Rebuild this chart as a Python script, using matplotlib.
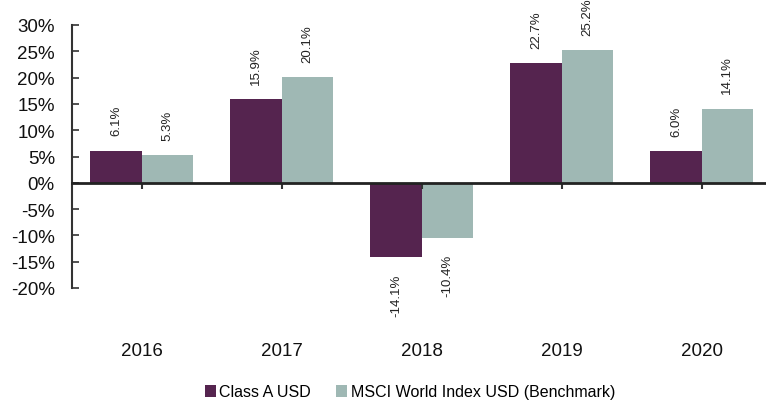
import matplotlib
matplotlib.use("Agg")
import matplotlib.pyplot as plt
from matplotlib.patches import Patch
from matplotlib.ticker import FuncFormatter
import numpy as np

years = ["2016", "2017", "2018", "2019", "2020"]
class_a = [6.1, 15.9, -14.1, 22.7, 6.0]
msci = [5.3, 20.1, -10.4, 25.2, 14.1]
series_names = ["Class A USD", "MSCI World Index USD (Benchmark)"]
yticks = [-20, -15, -10, -5, 0, 5, 10, 15, 20, 25, 30]

purple = "#55244f"
teal = "#9fb8b4"

plt.rcParams['font.family'] = ['Liberation Sans', 'DejaVu Sans']

fig = plt.figure(figsize=(7.66, 4.02), dpi=100)
ax = fig.add_axes([71.5 / 766, 1 - 289 / 402, 700 / 766, 263 / 402])

x = np.arange(len(years))
w = 0.365
b1 = ax.bar(x - w / 2, class_a, w, color=purple, linewidth=0)
b2 = ax.bar(x + w / 2, msci, w, color=teal, linewidth=0)

for bars, vals in ((b1, class_a), (b2, msci)):
    for rect, v in zip(bars, vals):
        cx = rect.get_x() + rect.get_width() / 2
        if v >= 0:
            ax.annotate(f"{v:.1f}%", (cx, v), xytext=(0, 11), textcoords="offset points",
                        rotation=90, ha="center", va="bottom", fontsize=9.5, color="#222222",
                        annotation_clip=False)
        else:
            ax.annotate(f"{v:.1f}%", (cx, v), xytext=(0, -12), textcoords="offset points",
                        rotation=90, ha="center", va="top", fontsize=9.5, color="#222222",
                        annotation_clip=False)

ax.set_xlim(-0.5, len(years) - 0.5)
ax.set_ylim(-20, 30)
ax.set_yticks(yticks)
ax.yaxis.set_major_formatter(FuncFormatter(lambda v, p: f"{v:.0f}%"))
ax.tick_params(axis="y", direction="in", length=5, width=1.2, color="#333333",
               labelsize=13.5, pad=12, labelcolor="#111111")

ax.spines["top"].set_visible(False)
ax.spines["right"].set_visible(False)
ax.spines["left"].set_color("#333333")
ax.spines["left"].set_linewidth(1.5)
ax.spines["bottom"].set_position(("data", 0))
ax.spines["bottom"].set_color("#222222")
ax.spines["bottom"].set_linewidth(2)
ax.spines["bottom"].set_clip_on(False)

ax.set_xticks(x)
ax.set_xticklabels([])
ax.tick_params(axis="x", direction="out", length=4, width=1.5, color="#333333")

for xi, yr in zip(x, years):
    ax.text(xi, -0.2395, yr, transform=ax.get_xaxis_transform(), ha="center", va="center",
            fontsize=13.5, color="#111111")

handles = [Patch(facecolor=purple, edgecolor="none"), Patch(facecolor=teal, edgecolor="none")]
fig.legend(handles, series_names, loc="center", bbox_to_anchor=(0.535, 1 - 393 / 402),
           ncol=2, frameon=False, fontsize=11.5, handlelength=0.7, handleheight=0.7,
           handletextpad=0.2, columnspacing=1.6, borderaxespad=0)

fig.savefig("out.png", dpi=100)
